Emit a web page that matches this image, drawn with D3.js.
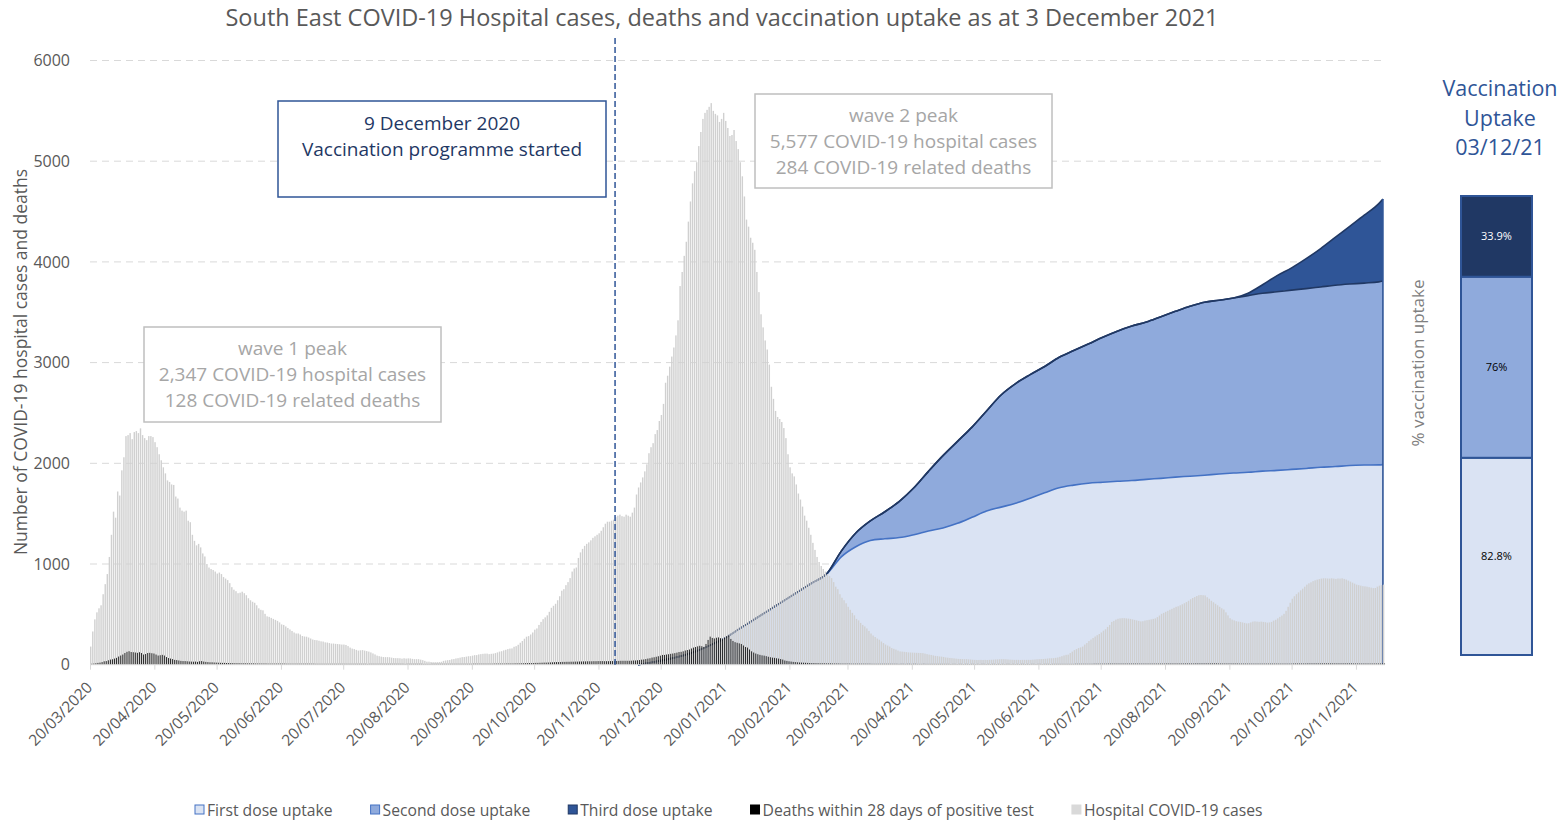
<!DOCTYPE html>
<html>
<head>
<meta charset="utf-8">
<script src="https://cdn.jsdelivr.net/npm/d3@7"></script>
<style>
  body { margin: 0; background: #fff; }
  svg { font-family: "Open Sans", sans-serif; }
</style>
</head>
<body>
<svg id="chart" width="1560" height="821"></svg>
<script>
// ---- data ----
const firstDay = "2020-03-20";   // first bar, one bar per day after it

const hospitalCases = [
  180,330,450,520,560,590,700,800,900,1070,
  1290,1520,1460,1720,1680,1930,2060,2270,2280,2300,
  2240,2310,2320,2300,2347,2280,2250,2230,2270,2270,
  2260,2210,2160,2090,2030,1960,1900,1830,1815,1790,
  1785,1670,1650,1560,1530,1520,1530,1430,1415,1290,
  1230,1185,1200,1165,1105,1075,1000,965,950,940,
  925,905,915,900,870,855,840,810,770,745,
  730,710,715,725,710,690,660,640,625,615,
  590,560,545,540,505,480,475,465,455,445,
  435,420,400,395,380,365,350,335,320,310,
  310,300,285,280,278,270,260,250,245,243,
  238,232,230,222,220,215,210,210,207,205,
  203,200,200,196,185,170,160,155,147,140,
  143,145,140,135,130,122,112,102,90,85,
  80,76,75,75,74,70,66,65,65,64,
  60,64,61,63,62,58,55,55,55,50,
  45,38,30,30,27,25,25,25,26,29,
  38,42,45,47,54,56,62,65,70,75,
  76,80,84,85,90,95,95,102,105,108,
  110,110,105,108,110,115,122,130,134,142,
  148,155,160,162,178,184,198,218,235,258,
  278,284,300,320,348,360,395,425,452,470,
  490,525,565,585,605,640,680,735,750,790,
  820,860,925,955,965,1060,1115,1150,1180,1200,
  1215,1235,1260,1275,1290,1305,1330,1365,1400,1420,
  1420,1430,1440,1465,1480,1490,1475,1470,1490,1480,
  1470,1510,1560,1690,1760,1810,1860,1920,1990,2100,
  2160,2200,2290,2330,2420,2480,2590,2800,2870,2960,
  3060,3150,3270,3420,3760,3900,4060,4200,4400,4600,
  4780,4900,4990,5150,5290,5420,5480,5510,5540,5577,
  5500,5470,5455,5390,5420,5480,5400,5330,5250,5260,
  5310,5200,5120,4990,4850,4650,4420,4350,4240,4190,
  4120,3900,3700,3480,3350,3220,3130,2980,2760,2640,
  2520,2460,2440,2410,2350,2250,2090,1960,1900,1870,
  1790,1700,1640,1570,1480,1430,1360,1290,1210,1140,
  1070,1020,980,950,925,900,880,860,820,775,
  750,700,665,640,610,575,545,515,490,455,
  440,415,395,380,360,335,310,290,275,260,
  248,230,215,200,190,180,165,158,150,140,
  132,130,128,125,122,121,120,119,118,117,
  116,115,110,105,100,97,92,88,85,82,
  80,77,72,70,67,65,63,60,58,57,
  56,55,55,53,51,49,48,47,47,48,
  47,48,47,48,49,50,52,53,54,55,
  55,54,52,50,49,48,48,48,47,48,
  48,48,48,48,50,52,54,55,56,57,
  59,61,63,64,65,68,72,78,85,92,
  98,100,115,130,145,155,165,172,180,200,
  215,235,250,265,280,293,305,320,338,352,
  375,395,425,435,448,456,460,462,462,460,
  458,455,450,445,440,435,430,432,438,442,
  446,450,455,460,472,488,505,515,525,535,
  545,555,565,575,580,590,600,610,622,635,
  650,662,672,682,690,692,690,688,670,655,
  635,620,605,590,575,560,548,520,490,462,
  448,440,432,428,425,420,415,410,412,420,
  428,430,428,426,428,425,422,418,420,425,
  438,446,460,475,488,505,535,575,615,655,
  680,700,718,738,755,775,795,808,818,830,
  838,845,850,855,858,858,856,855,858,855,
  852,856,855,858,852,845,835,825,815,805,
  795,790,785,780,778,775,770,765,760,762,
  775,785,790,795
];

const deaths = [
  3,5,8,12,15,20,28,30,38,45,
  48,55,62,75,85,95,110,122,128,120,
  118,115,112,118,110,95,100,110,112,108,
  105,95,85,88,92,85,70,60,55,50,
  42,40,36,32,30,30,28,26,25,24,
  25,22,28,30,25,22,20,18,18,16,
  15,14,13,12,12,11,11,10,10,9,
  9,9,8,8,8,7,7,7,7,6,
  6,6,6,6,6,5,5,5,5,5,
  5,5,5,5,4,4,4,4,4,4,
  4,4,4,4,4,4,4,4,3,3,
  3,3,3,3,3,3,3,3,3,3,
  3,3,3,3,3,3,3,3,3,3,
  3,3,3,2,3,3,3,3,3,3,
  3,3,3,3,3,3,3,3,3,3,
  3,2,3,3,3,3,3,3,3,3,
  2,2,2,2,3,3,3,3,3,3,
  3,3,3,3,3,3,3,3,3,3,
  3,3,3,3,4,4,4,4,4,4,
  4,4,4,4,5,5,5,5,5,5,
  6,6,6,6,7,7,7,8,8,9,
  9,10,10,11,12,12,13,14,15,15,
  16,17,18,19,20,20,21,22,22,23,
  23,24,24,25,25,26,26,27,27,28,
  28,28,29,29,30,30,30,29,29,29,
  30,30,29,31,32,33,33,33,33,33,
  34,36,36,38,40,44,46,50,55,58,
  65,68,73,78,84,91,91,95,98,102,
  105,109,114,120,122,127,135,140,145,155,
  164,170,176,182,178,171,200,240,273,260,
  255,262,265,258,247,260,275,284,250,230,
  218,212,206,200,185,170,164,145,127,115,
  105,98,92,87,84,79,73,68,64,62,
  58,55,50,45,36,32,28,25,22,20,
  18,16,15,14,13,12,11,10,10,9,
  9,8,8,8,7,7,7,6,6,6,
  6,5,5,5,5,5,4,4,4,4,
  4,4,4,4,4,4,3,3,3,3,
  3,3,3,3,3,3,3,3,3,2,
  3,3,2,3,3,2,3,3,2,2,
  2,3,2,2,2,2,2,2,2,2,
  2,2,2,2,1,2,2,1,2,2,
  1,2,2,1,2,2,1,2,1,2,
  2,1,2,1,2,2,1,2,1,2,
  1,2,2,1,2,1,2,1,2,2,
  1,2,1,2,2,1,2,2,1,2,
  2,2,1,2,2,2,2,2,2,2,
  2,2,2,2,3,3,3,3,3,3,
  3,3,3,4,4,4,4,4,4,4,
  5,5,5,5,5,5,5,5,5,5,
  5,5,5,5,5,5,5,5,5,5,
  5,5,5,5,5,5,5,5,6,6,
  6,6,6,6,6,6,6,6,6,6,
  6,6,7,7,7,7,7,7,7,7,
  7,7,7,6,6,6,6,6,6,6,
  6,6,6,5,5,5,5,5,5,5,
  5,5,5,5,5,5,5,5,5,5,
  5,5,5,5,5,5,5,5,5,6,
  6,6,6,6,6,6,7,7,7,7,
  7,7,7,7,7,7,7,7,7,7,
  7,7,7,7,7,7,7,7,6,6,
  6,6,6,6,6,6,6,6,6,6,
  6,6,6,6
];

// cumulative vaccination uptake, % (weekly readings)
const vaccDates = [
  "2020-12-09","2020-12-16","2020-12-23","2020-12-30","2021-01-06","2021-01-13","2021-01-20","2021-01-27",
  "2021-02-03","2021-02-10","2021-02-17","2021-02-24","2021-03-03","2021-03-10","2021-03-17","2021-03-24",
  "2021-03-31","2021-04-07","2021-04-14","2021-04-21","2021-04-28","2021-05-05","2021-05-12","2021-05-19",
  "2021-05-26","2021-06-02","2021-06-09","2021-06-16","2021-06-23","2021-06-30","2021-07-07","2021-07-14",
  "2021-07-21","2021-07-28","2021-08-04","2021-08-11","2021-08-18","2021-08-25","2021-09-01","2021-09-08",
  "2021-09-15","2021-09-22","2021-09-29","2021-10-06","2021-10-13","2021-10-20","2021-10-27","2021-11-03",
  "2021-11-10","2021-11-17","2021-11-24","2021-12-01","2021-12-03"
];
const firstDose = [
  0,1.0,2.2,3.6,5.5,8.0,11.0,14.8,
  18.6,22.4,26.2,30.0,33.8,37.5,44.6,48.8,
  51.4,52.1,52.6,53.8,55.3,56.6,58.5,61.0,
  63.6,65.2,66.8,68.9,71.1,73.2,74.3,75.1,
  75.5,75.9,76.2,76.7,77.1,77.6,78.0,78.4,
  78.9,79.3,79.6,80.1,80.4,80.8,81.2,81.7,
  82.0,82.4,82.6,82.7,82.8
];
const secondDose = [
  0,0,0,0,0.1,0.1,0.1,0.1,
  0.1,0.1,0.1,0.1,0.1,0.1,2.4,5.7,
  8.1,11.2,15.0,19.4,24.7,29.9,33.9,37.3,
  41.4,46.4,49.5,51.1,52.3,54.0,55.7,57.6,
  60.0,62.1,63.9,65.1,66.9,68.6,70.3,71.6,
  71.9,72.4,73.1,73.6,73.9,74.2,74.4,74.6,
  75.0,75.1,75.3,75.7,76.0
];
const thirdDose = [
  0,0,0,0,0,0,0,0,
  0,0,0,0,0,0,0,0,
  0,0,0,0,0,0,0,0,
  0,0,0,0,0,0,0,0,
  0,0,0,0,0,0,0,0,
  0,0,1.0,3.5,6.7,9.2,12.4,15.9,
  19.8,23.9,28.1,32.4,33.9
];

const doseNames = ["First dose uptake", "Second dose uptake", "Third dose uptake"];
const uptakeNow = [82.8, 76, 33.9];          // as at 03/12/21
const uptakeLabels = ["82.8%", "76%", "33.9%"];

const xTickLabels = [
  "20/03/2020","20/04/2020","20/05/2020","20/06/2020","20/07/2020","20/08/2020","20/09/2020",
  "20/10/2020","20/11/2020","20/12/2020","20/01/2021","20/02/2021","20/03/2021","20/04/2021",
  "20/05/2021","20/06/2021","20/07/2021","20/08/2021","20/09/2021","20/10/2021","20/11/2021"
];
const yTicks = [0, 1000, 2000, 3000, 4000, 5000, 6000];
const vaccLineDate = "2020-11-28";

// ---- layout ----
const plot = {left: 90, right: 1385, top: 60.5, bottom: 664.7};
const colFirst = "#dae3f3", colSecond = "#8faadc", colThird = "#2f5597";
const textGrey = "#595959";

const parseIso = d3.utcParse("%Y-%m-%d");
const parseTick = d3.utcParse("%d/%m/%Y");
const start = parseIso(firstDay);

const svg = d3.select("#chart");

const x = d3.scaleUtc()
    .domain([start, d3.utcDay.offset(start, hospitalCases.length)])
    .range([plot.left, plot.right]);
const y = d3.scaleLinear().domain([0, 6000]).range([plot.bottom, plot.top]);
// secondary (hidden) axis for the uptake areas
const yPct = d3.scaleLinear().domain([0, 250]).range([plot.bottom, plot.top]);

// gridlines
svg.append("g")
  .selectAll("line")
  .data(yTicks.filter(d => d > 0))
  .enter().append("line")
    .attr("x1", plot.left).attr("x2", plot.right)
    .attr("y1", d => y(d)).attr("y2", d => y(d))
    .attr("stroke", "#d9d9d9")
    .attr("stroke-dasharray", "7,5");

// y axis (labels only)
const yAxis = svg.append("g")
    .attr("transform", "translate(" + (plot.left - 17) + ",0)")
    .call(d3.axisLeft(y).tickValues(yTicks).tickSize(0).tickFormat(d3.format("d")));
yAxis.select(".domain").remove();
yAxis.selectAll("text")
    .attr("fill", textGrey)
    .style("font-size", "16px")
    .style("font-family", "Open Sans");

// ---- stacked uptake areas (behind the bars) ----
const vaccRows = vaccDates.map((d, i) => ({
  date: parseIso(d), first: firstDose[i], second: secondDose[i], third: thirdDose[i]
}));
const stacked = d3.stack().keys(["first", "second", "third"])(vaccRows);
const areaFills = [colFirst, colSecond, colThird];
const areaLines = ["#4472c4", "#203864", "#203864"];

const area = d3.area()
    .x(d => x(d.data.date))
    .y0(d => yPct(d[0]))
    .y1(d => yPct(d[1]))
    .curve(d3.curveMonotoneX);
const topLine = d3.line()
    .x(d => x(d.data.date))
    .y(d => yPct(d[1]))
    .curve(d3.curveMonotoneX);

svg.append("g").selectAll("path")
  .data(stacked)
  .enter().append("path")
    .attr("d", area)
    .attr("fill", (d, i) => areaFills[i]);

svg.append("g").selectAll("path")
  .data(stacked)
  .enter().append("path")
    .attr("d", topLine)
    .attr("fill", "none")
    .attr("stroke", (d, i) => areaLines[i])
    .attr("stroke-width", 1.6);

// closing edge of the areas at the last date
const lastRow = stacked[2][stacked[2].length - 1];
svg.append("line")
    .attr("x1", x(lastRow.data.date)).attr("x2", x(lastRow.data.date))
    .attr("y1", yPct(lastRow[1])).attr("y2", yPct(0))
    .attr("stroke", "#2f5597")
    .attr("stroke-width", 1.6);

// ---- daily bars ----
const days = hospitalCases.map((v, i) => d3.utcDay.offset(start, i));

svg.append("g").selectAll("rect")
  .data(hospitalCases)
  .enter().append("rect")
    .attr("x", (d, i) => x(days[i]))
    .attr("width", 1.4)
    .attr("y", d => y(d))
    .attr("height", d => y(0) - y(d))
    .attr("fill", "#d0d0d0");

svg.append("g").selectAll("rect")
  .data(deaths)
  .enter().append("rect")
    .attr("x", (d, i) => x(days[i]) + 1.3)
    .attr("width", 0.8)
    .attr("y", d => y(d) - 0.6)
    .attr("height", d => y(0) - y(d) + 0.6)
    .attr("fill", "#000");

// x axis
const tickDates = xTickLabels.map(parseTick);
const xAxis = svg.append("g")
    .attr("transform", "translate(0," + plot.bottom + ")")
    .call(d3.axisBottom(x).tickValues(tickDates).tickSize(5).tickFormat((d, i) => xTickLabels[i]));
xAxis.select(".domain").attr("stroke", "#d9d9d9").attr("d", "M" + plot.left + ",0H" + plot.right);
xAxis.selectAll(".tick line").attr("stroke", "#d9d9d9");
xAxis.selectAll(".tick text")
    .attr("fill", textGrey)
    .style("font-size", "15.5px")
    .style("font-family", "Open Sans")
    .attr("text-anchor", "end")
    .attr("x", 0).attr("y", 0).attr("dy", "0.35em")
    .attr("transform", "translate(-1,20) rotate(-45)");

// vaccination start marker
svg.append("line")
    .attr("x1", x(parseIso(vaccLineDate))).attr("x2", x(parseIso(vaccLineDate)))
    .attr("y1", 38).attr("y2", plot.bottom)
    .attr("stroke", "#2f5597")
    .attr("stroke-width", 1.5)
    .attr("stroke-dasharray", "6,3");

// ---- annotation boxes ----
function noteBox(bx, by, bw, bh, lines, stroke, color, shiftY) {
  const g = svg.append("g");
  g.append("rect")
      .attr("x", bx).attr("y", by).attr("width", bw).attr("height", bh)
      .attr("fill", "#fff").attr("stroke", stroke).attr("stroke-width", 1.5);
  g.selectAll("text")
    .data(lines)
    .enter().append("text")
      .attr("x", bx + bw / 2)
      .attr("y", (d, i) => by + bh / 2 + (i - (lines.length - 1) / 2) * 26 + 6.5 + shiftY)
      .attr("text-anchor", "middle")
      .attr("fill", color)
      .style("font-size", "19px")
      .text(d => d);
}
noteBox(278, 101, 328, 96, ["9 December 2020", "Vaccination programme started"], "#2f5597", "#1f3864", -13);
noteBox(755, 94, 297, 94, ["wave 2 peak", "5,577 COVID-19 hospital cases", "284 COVID-19 related deaths"], "#bfbfbf", "#a6a6a6", 0);
noteBox(144, 327, 297, 95, ["wave 1 peak", "2,347 COVID-19 hospital cases", "128 COVID-19 related deaths"], "#bfbfbf", "#a6a6a6", 0);

// ---- titles ----
svg.append("text")
    .attr("x", 722).attr("y", 26)
    .attr("text-anchor", "middle")
    .attr("fill", textGrey)
    .style("font-size", "23.5px")
    .text("South East COVID-19 Hospital cases, deaths and vaccination uptake as at 3 December 2021");

svg.append("text")
    .attr("transform", "translate(27,362) rotate(-90)")
    .attr("text-anchor", "middle")
    .attr("fill", textGrey)
    .style("font-size", "17.5px")
    .text("Number of COVID-19 hospital cases and deaths");

// ---- right-hand uptake bar ----
const uptakeTitle = ["Vaccination", "Uptake", "03/12/21"];
svg.append("g").selectAll("text")
  .data(uptakeTitle)
  .enter().append("text")
    .attr("x", 1500)
    .attr("y", (d, i) => 96 + i * 29.5)
    .attr("text-anchor", "middle")
    .attr("fill", "#2f5597")
    .style("font-size", "21.5px")
    .text(d => d);

svg.append("text")
    .attr("transform", "translate(1424,363) rotate(-90)")
    .attr("text-anchor", "middle")
    .attr("fill", "#808080")
    .style("font-size", "17px")
    .text("% vaccination uptake");

const yUp = d3.scaleLinear().domain([0, d3.sum(uptakeNow)]).range([655, 196]);
const upCum = d3.cumsum(uptakeNow);
const upFills = [colFirst, colSecond, "#203864"];
const upText = ["#000", "#000", "#fff"];
const upG = svg.append("g");
upG.selectAll("rect")
  .data(uptakeNow)
  .enter().append("rect")
    .attr("x", 1461).attr("width", 71)
    .attr("y", (d, i) => yUp(upCum[i]))
    .attr("height", d => yUp(0) - yUp(d))
    .attr("fill", (d, i) => upFills[i])
    .attr("stroke", "#2f5597")
    .attr("stroke-width", 2);
upG.selectAll("text")
  .data(uptakeNow)
  .enter().append("text")
    .attr("x", 1496.5)
    .attr("y", (d, i) => yUp(upCum[i] - d / 2) + 4)
    .attr("text-anchor", "middle")
    .attr("fill", (d, i) => upText[i])
    .style("font-size", "11px")
    .text((d, i) => uptakeLabels[i]);

// ---- legend ----
const legendItems = [
  {label: doseNames[0], fill: colFirst, stroke: "#4472c4"},
  {label: doseNames[1], fill: colSecond, stroke: "#4472c4"},
  {label: doseNames[2], fill: colThird, stroke: "#203864"},
  {label: "Deaths within 28 days of positive test", fill: "#000", stroke: "#000"},
  {label: "Hospital COVID-19 cases", fill: "#d9d9d9", stroke: "#d9d9d9"}
];
let lx = 195;
legendItems.forEach(function(item) {
  svg.append("rect")
      .attr("x", lx).attr("y", 805).attr("width", 9).attr("height", 9)
      .attr("fill", item.fill).attr("stroke", item.stroke);
  const t = svg.append("text")
      .attr("x", lx + 12).attr("y", 815.5)
      .attr("fill", textGrey)
      .style("font-size", "15.7px")
      .text(item.label);
  lx += 12 + t.node().getComputedTextLength() + 38;
});
</script>
</body>
</html>
